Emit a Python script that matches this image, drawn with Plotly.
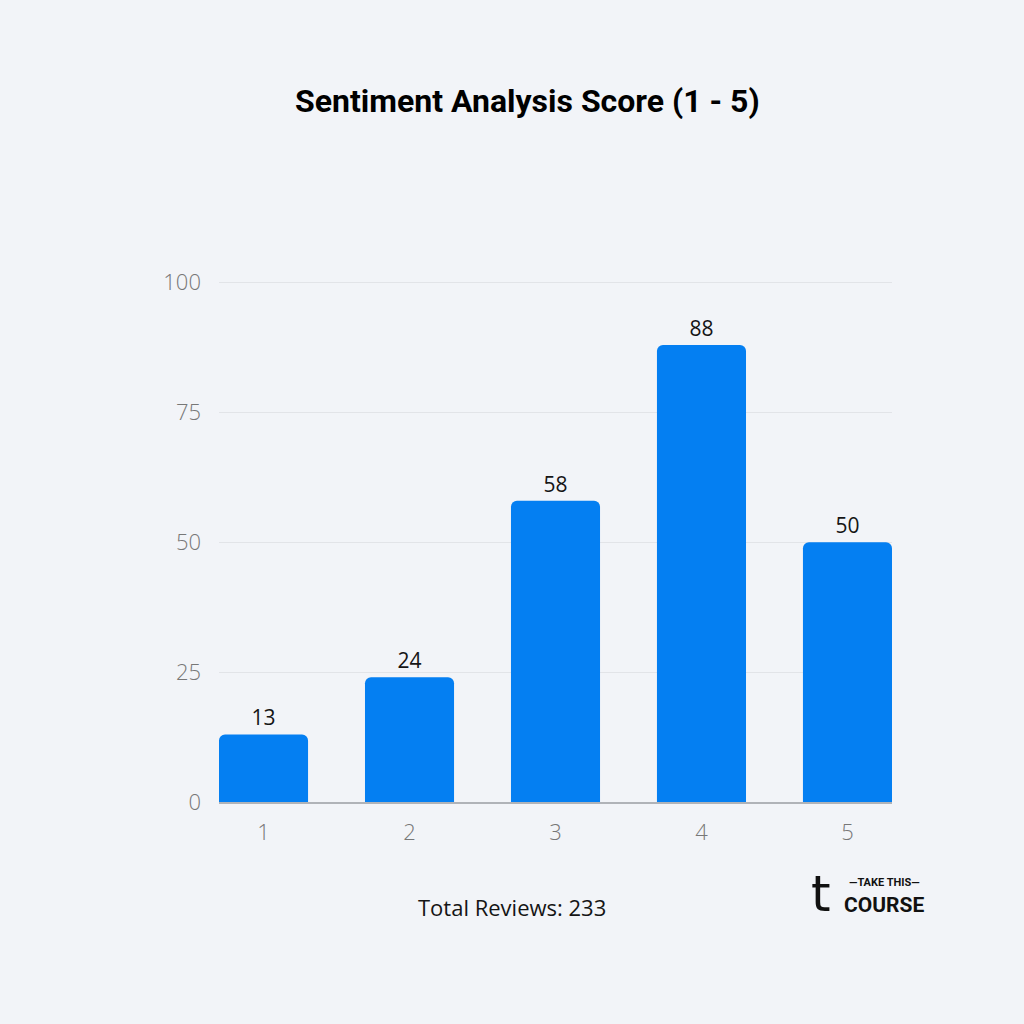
import plotly.graph_objects as go

categories = ["1", "2", "3", "4", "5"]
values = [13, 24, 58, 88, 50]
y_ticks = [0, 25, 50, 75, 100]
title_text = "Sentiment Analysis Score (1 - 5)"
footer_text = "Total Reviews: 233"

BG = "#f2f4f8"
BLUE = "#047ff2"

fig = go.Figure()
fig.add_trace(go.Bar(
    x=[int(c) for c in categories],
    y=values,
    marker=dict(color=BLUE, cornerradius=6, line=dict(width=0)),
    width=0.61,
    text=[str(v) for v in values],
    textposition="outside",
    textfont=dict(family="Open Sans, Noto Sans, sans-serif", size=21, color="#151515"),
    cliponaxis=False,
    hoverinfo="skip",
))

fig.update_layout(
    width=1024, height=1024,
    paper_bgcolor=BG, plot_bgcolor=BG,
    margin=dict(l=219, r=132, t=281, b=222),
    showlegend=False,
    title=dict(
        text=title_text,
        x=0.515, xanchor="center", y=0.902, yanchor="middle",
        font=dict(family="Roboto, sans-serif",
                  size=32, color="#000000", weight="bold"),
    ),
    xaxis=dict(
        range=[0.695, 5.305],
        tickvals=[int(c) for c in categories],
        ticktext=categories,
        showgrid=False, zeroline=False,
        showline=True, linecolor="#b0b3b8", linewidth=1.5,
        ticks="", ticklabelstandoff=10,
        tickfont=dict(family="Open Sans, Noto Sans, sans-serif", size=22, color="#777777", weight=300),
    ),
    yaxis=dict(
        range=[0, 100.3],
        tickvals=y_ticks,
        showgrid=True, gridcolor="#e2e4e8", gridwidth=1,
        zeroline=False, showline=False, ticks="",
        ticklabelstandoff=17,
        tickfont=dict(family="Open Sans, Noto Sans, sans-serif", size=22, color="#777777", weight=300),
    ),
)

fig.add_annotation(
    text=footer_text, xref="paper", yref="paper",
    x=(512 - 219) / 673, y=-(907 - 802) / 521,
    xanchor="center", yanchor="middle", showarrow=False,
    font=dict(family="Open Sans, Noto Sans, sans-serif", size=22, color="#151515"),
)

# Logo
fig.add_annotation(
    text="t", xref="paper", yref="paper",
    x=(821 - 219) / 673, y=-(894 - 802) / 521,
    xanchor="center", yanchor="middle", showarrow=False,
    font=dict(family="DejaVu Sans, sans-serif", size=50, color="#111111"),
)
fig.add_annotation(
    text="<b>—TAKE THIS—</b>", xref="paper", yref="paper",
    x=(884 - 219) / 673, y=-(882 - 802) / 521,
    xanchor="center", yanchor="middle", showarrow=False,
    font=dict(family="Roboto, sans-serif", size=11, color="#111111"),
)
fig.add_annotation(
    text="<b>COURSE</b>", xref="paper", yref="paper",
    x=(884 - 219) / 673, y=-(905 - 802) / 521,
    xanchor="center", yanchor="middle", showarrow=False,
    font=dict(family="Roboto, sans-serif", size=21, color="#111111"),
)

fig.write_html("out.html")
